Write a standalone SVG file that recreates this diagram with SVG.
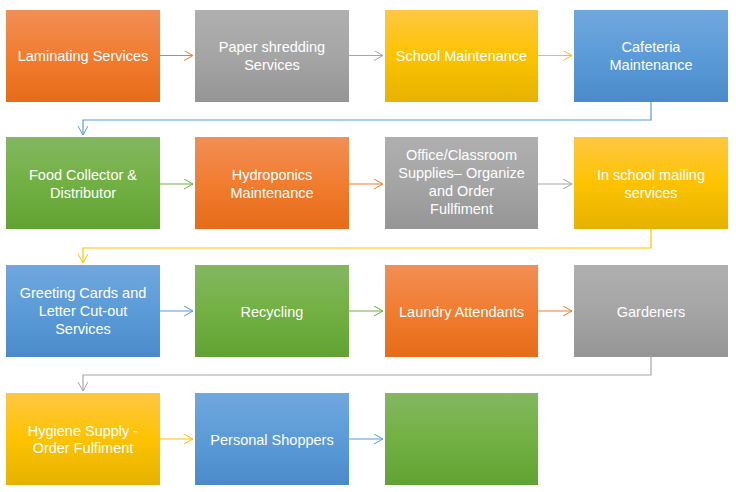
<svg xmlns="http://www.w3.org/2000/svg" width="736" height="492" viewBox="0 0 736 492">
<defs>
<linearGradient id="gOrange" x1="0" y1="0" x2="0" y2="1"><stop offset="0" stop-color="#F28E55"/><stop offset="0.5" stop-color="#F17D30"/><stop offset="1" stop-color="#E56C18"/></linearGradient>
<linearGradient id="gGray" x1="0" y1="0" x2="0" y2="1"><stop offset="0" stop-color="#AFAFAF"/><stop offset="0.5" stop-color="#A5A5A5"/><stop offset="1" stop-color="#959595"/></linearGradient>
<linearGradient id="gGold" x1="0" y1="0" x2="0" y2="1"><stop offset="0" stop-color="#FFC743"/><stop offset="0.5" stop-color="#FDC300"/><stop offset="1" stop-color="#E6B200"/></linearGradient>
<linearGradient id="gBlue" x1="0" y1="0" x2="0" y2="1"><stop offset="0" stop-color="#71A7DD"/><stop offset="0.5" stop-color="#5B9BD8"/><stop offset="1" stop-color="#4A8ACA"/></linearGradient>
<linearGradient id="gGreen" x1="0" y1="0" x2="0" y2="1"><stop offset="0" stop-color="#83B861"/><stop offset="0.5" stop-color="#72B043"/><stop offset="1" stop-color="#62A233"/></linearGradient>
<marker id="mOrange" markerUnits="userSpaceOnUse" markerWidth="12" markerHeight="12" refX="9" refY="5" orient="auto" viewBox="0 0 12 12"><path d="M0,0 L9,5 L0,10" fill="none" stroke="#ED7D31" stroke-width="1"/></marker>
<marker id="mGray" markerUnits="userSpaceOnUse" markerWidth="12" markerHeight="12" refX="9" refY="5" orient="auto" viewBox="0 0 12 12"><path d="M0,0 L9,5 L0,10" fill="none" stroke="#A5A5A5" stroke-width="1"/></marker>
<marker id="mGold" markerUnits="userSpaceOnUse" markerWidth="12" markerHeight="12" refX="9" refY="5" orient="auto" viewBox="0 0 12 12"><path d="M0,0 L9,5 L0,10" fill="none" stroke="#FFC000" stroke-width="1"/></marker>
<marker id="mBlue" markerUnits="userSpaceOnUse" markerWidth="12" markerHeight="12" refX="9" refY="5" orient="auto" viewBox="0 0 12 12"><path d="M0,0 L9,5 L0,10" fill="none" stroke="#5B9BD5" stroke-width="1"/></marker>
<marker id="mGreen" markerUnits="userSpaceOnUse" markerWidth="12" markerHeight="12" refX="9" refY="5" orient="auto" viewBox="0 0 12 12"><path d="M0,0 L9,5 L0,10" fill="none" stroke="#70AD47" stroke-width="1"/></marker>
</defs>
<style>
text{font-family:"Liberation Sans",Arial,sans-serif;font-size:14.5px;fill:#FFFFFF;text-anchor:middle}
.c{fill:none;stroke-width:1.2}
.o{stroke:#ED7D31;marker-end:url(#mOrange)}
.g{stroke:#A5A5A5;marker-end:url(#mGray)}
.y{stroke:#FFC000;marker-end:url(#mGold)}
.b{stroke:#5B9BD5;marker-end:url(#mBlue)}
.n{stroke:#70AD47;marker-end:url(#mGreen)}
</style>
<rect width="736" height="492" fill="#FFFFFF"/>
<g id="connectors">
<path class="c o" d="M160,55.5 H193"/>
<path class="c g" d="M349,55.5 H383"/>
<path class="c y" d="M538,55.5 H572"/>
<path class="c b" d="M651,102 V120 H83 V135"/>
<path class="c n" d="M160,184 H193"/>
<path class="c o" d="M349,184 H383"/>
<path class="c g" d="M538,184 H572"/>
<path class="c y" d="M651,229 V248 H83 V263"/>
<path class="c b" d="M160,311 H193"/>
<path class="c n" d="M349,311 H383"/>
<path class="c o" d="M538,311 H572"/>
<path class="c g" d="M651,357 V375 H83 V391"/>
<path class="c y" d="M160,439 H193"/>
<path class="c b" d="M349,439 H383"/>
</g>
<g id="n1"><rect x="6" y="10" width="154" height="92" fill="url(#gOrange)"/><text x="83" y="61">Laminating Services</text></g>
<g id="n2"><rect x="195" y="10" width="154" height="92" fill="url(#gGray)"/><text x="272" y="52.3">Paper shredding</text><text x="272" y="70">Services</text></g>
<g id="n3"><rect x="385" y="10" width="153" height="92" fill="url(#gGold)"/><text x="461.5" y="61">School Maintenance</text></g>
<g id="n4"><rect x="574" y="10" width="154" height="92" fill="url(#gBlue)"/><text x="651" y="52.3">Cafeteria</text><text x="651" y="70">Maintenance</text></g>
<g id="n5"><rect x="6" y="137" width="154" height="92" fill="url(#gGreen)"/><text x="83" y="180">Food Collector &amp;</text><text x="83" y="197.7">Distributor</text></g>
<g id="n6"><rect x="195" y="137" width="154" height="92" fill="url(#gOrange)"/><text x="272" y="180">Hydroponics</text><text x="272" y="197.7">Maintenance</text></g>
<g id="n7"><rect x="385" y="137" width="153" height="92" fill="url(#gGray)"/><text x="461.5" y="160">Office/Classroom</text><text x="461.5" y="178">Supplies– Organize</text><text x="461.5" y="196">and Order</text><text x="461.5" y="214">Fullfiment</text></g>
<g id="n8"><rect x="574" y="137" width="154" height="92" fill="url(#gGold)"/><text x="651" y="180">In school mailing</text><text x="651" y="197.7">services</text></g>
<g id="n9"><rect x="6" y="265" width="154" height="92" fill="url(#gBlue)"/><text x="83" y="298">Greeting Cards and</text><text x="83" y="316">Letter Cut-out</text><text x="83" y="334">Services</text></g>
<g id="n10"><rect x="195" y="265" width="154" height="92" fill="url(#gGreen)"/><text x="272" y="316.5">Recycling</text></g>
<g id="n11"><rect x="385" y="265" width="153" height="92" fill="url(#gOrange)"/><text x="461.5" y="316.5">Laundry Attendants</text></g>
<g id="n12"><rect x="574" y="265" width="154" height="92" fill="url(#gGray)"/><text x="651" y="316.5">Gardeners</text></g>
<g id="n13"><rect x="6" y="393" width="154" height="92" fill="url(#gGold)"/><text x="83" y="435.5">Hygiene Supply -</text><text x="83" y="453.3">Order Fulfiment</text></g>
<g id="n14"><rect x="195" y="393" width="154" height="92" fill="url(#gBlue)"/><text x="272" y="444.5">Personal Shoppers</text></g>
<g id="n15"><rect x="385" y="393" width="153" height="92" fill="url(#gGreen)"/></g>
</svg>
